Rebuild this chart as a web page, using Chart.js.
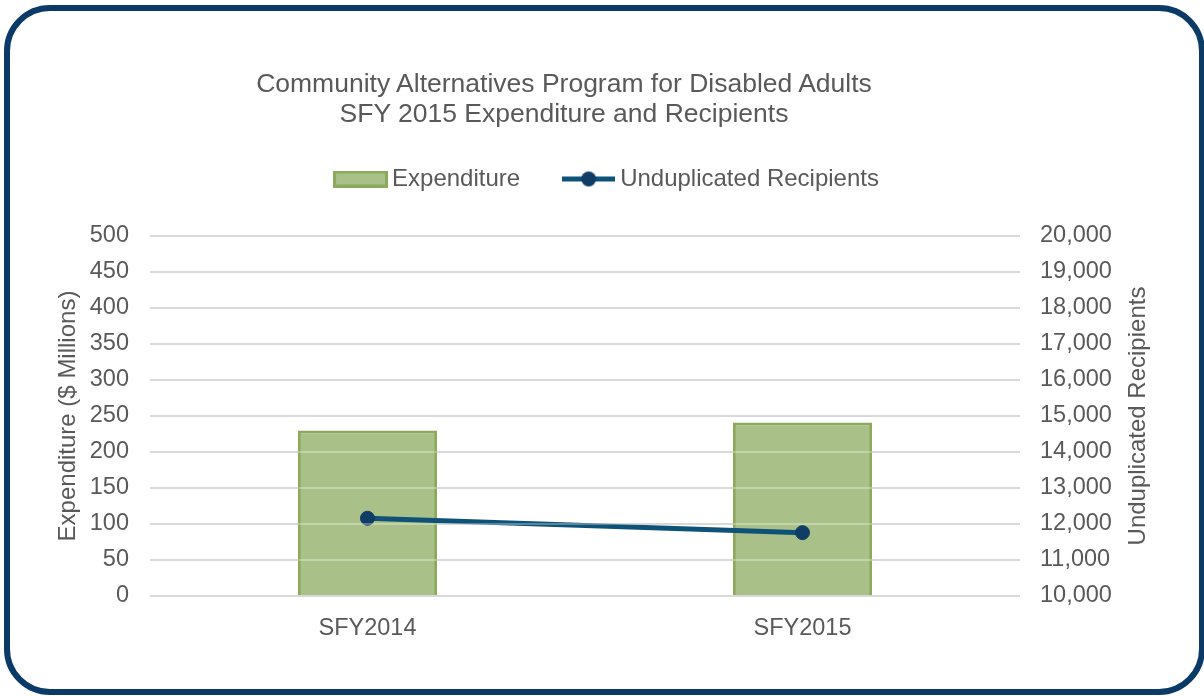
<!DOCTYPE html>
<html>
<head>
<meta charset="utf-8">
<script src="https://cdn.jsdelivr.net/npm/chart.js@4/dist/chart.umd.min.js"></script>
<style>
  html, body { margin:0; padding:0; background:#fff; }
  #wrap { position:relative; width:1204px; height:696px; overflow:hidden; background:#fff; }
  #c { position:absolute; left:0; top:0; }
  #title { position:absolute; left:0; top:68px; width:1128px; text-align:center;
    font-family:"Liberation Sans", Arial, sans-serif; font-size:26.5px; line-height:30px; color:#595959; pointer-events:none; }
  #frame { position:absolute; left:4px; top:5px; width:1201px; height:690px; box-sizing:border-box;
    border:6px solid #0B3A66; border-radius:46px; pointer-events:none; }
</style>
</head>
<body>
<div id="wrap">
  <canvas id="c" width="1204" height="696"></canvas>
  <div id="title">Community Alternatives Program for Disabled Adults<br>SFY 2015 Expenditure and Recipients</div>
  <div id="frame"></div>
</div>
<script>
const categories = ['SFY2014', 'SFY2015'];
const expenditure = [230, 241];
const recipients = [12160, 11760];
const expenditureTicks = [0, 50, 100, 150, 200, 250, 300, 350, 400, 450, 500];
const recipientTicks = [10000, 11000, 12000, 13000, 14000, 15000, 16000, 17000, 18000, 19000, 20000];
const seriesNames = ['Expenditure', 'Unduplicated Recipients'];

const FONT = '"Liberation Sans", Arial, sans-serif';
const TXT = '#595959';
const BAR_FILL = '#A9C089';
const BAR_EDGE = '#8CA95C';
const LINE_COL = '#0E5278';
const PT_COL = '#0F3D66';

function boxIcon() {
  const c = document.createElement('canvas'); c.width = 55; c.height = 17;
  const x = c.getContext('2d');
  x.fillStyle = BAR_FILL; x.fillRect(0, 0, 55, 17);
  x.strokeStyle = BAR_EDGE; x.lineWidth = 3; x.strokeRect(1.5, 1.5, 52, 14);
  return c;
}
function lineIcon() {
  const c = document.createElement('canvas'); c.width = 53; c.height = 17;
  const x = c.getContext('2d');
  x.strokeStyle = LINE_COL; x.lineWidth = 5;
  x.beginPath(); x.moveTo(0, 8.5); x.lineTo(53, 8.5); x.stroke();
  x.fillStyle = PT_COL; x.beginPath(); x.arc(26.5, 8.5, 7.5, 0, Math.PI * 2); x.fill();
  return c;
}
const icons = [boxIcon(), lineIcon()];

const layoutTweak = {
  id: 'layoutTweak',
  afterInit(chart) {
    const lg = chart.legend;
    if (lg && !lg._patched) {
      const fit = lg.fit.bind(lg);
      lg.fit = function () { fit(); this.height += 35; };
      lg._patched = true;
    }
  },
  afterLayout(chart) {
    const lg = chart.legend;
    if (lg) { lg.left += 8; lg.right += 8; }
    const s = chart.scales.y1;
    if (s && !s._titlePatched) {
      // right-hand axis title reads bottom-to-top, like the left one
      s.drawTitle = function () {
        const t = this.options.title;
        if (!t.display) return;
        const font = Chart.helpers.toFont(t.font);
        const pad = Chart.helpers.toPadding(t.padding);
        const ctx = this.ctx;
        const x = this.right - pad.top - font.lineHeight / 2;
        const y = (this.top + this.bottom) / 2;
        ctx.save();
        ctx.translate(x, y);
        ctx.rotate(-Math.PI / 2);
        ctx.font = font.string;
        ctx.fillStyle = t.color;
        ctx.textAlign = 'center';
        ctx.textBaseline = 'middle';
        ctx.fillText(t.text, 0, 0);
        ctx.restore();
      };
      s._titlePatched = true;
    }
  }
};

new Chart(document.getElementById('c'), {
  type: 'bar',
  data: {
    labels: categories,
    datasets: [
      {
        type: 'bar', label: seriesNames[0], data: expenditure, yAxisID: 'y', order: 1,
        backgroundColor: BAR_FILL, borderColor: BAR_EDGE, borderWidth: 3,
        categoryPercentage: 1, barPercentage: 0.32
      },
      {
        type: 'line', label: seriesNames[1], data: recipients, yAxisID: 'y1', order: 0,
        borderColor: LINE_COL, borderWidth: 5, tension: 0, fill: false,
        pointRadius: 7, pointBackgroundColor: PT_COL, pointBorderColor: PT_COL, pointBorderWidth: 1,
        pointHoverRadius: 7
      }
    ]
  },
  options: {
    responsive: false,
    animation: false,
    devicePixelRatio: 1,
    layout: { padding: { top: 118, left: 0, right: 0, bottom: 0 } },
    plugins: {
      title: { display: false },
      tooltip: { enabled: false },
      legend: {
        display: true,
        position: 'top',
        labels: {
          usePointStyle: true,
          pointStyleWidth: 39,
          boxHeight: 17,
          padding: 49,
          color: TXT,
          font: { family: FONT, size: 24 },
          generateLabels(chart) {
            return seriesNames.map((n, i) => ({
              text: n, pointStyle: icons[i], datasetIndex: i, hidden: false,
              fillStyle: 'transparent', strokeStyle: 'transparent', lineWidth: 0, fontColor: TXT
            }));
          }
        }
      }
    },
    scales: {
      x: {
        grid: { display: false },
        border: { display: false },
        ticks: { color: TXT, font: { family: FONT, size: 23.5 }, padding: 10 },
        afterFit(s) { s.height = 100; }
      },
      y: {
        position: 'left',
        min: expenditureTicks[0], max: expenditureTicks[expenditureTicks.length - 1],
        afterBuildTicks(s) { s.ticks = expenditureTicks.map(v => ({ value: v })); },
        grid: { color: '#C9C9C9', lineWidth: 2, drawTicks: false },
        border: { display: false },
        ticks: { color: TXT, font: { family: FONT, size: 23.5 }, padding: 21 },
        title: { display: true, text: 'Expenditure ($ Millions)', color: TXT, font: { family: FONT, size: 24 }, padding: { top: 54, bottom: 0 } },
        afterFit(s) { s.width = 150; }
      },
      y1: {
        position: 'right',
        min: recipientTicks[0], max: recipientTicks[recipientTicks.length - 1],
        afterBuildTicks(s) { s.ticks = recipientTicks.map(v => ({ value: v })); },
        grid: { color: 'rgba(255,255,255,0.3)', lineWidth: 2, drawTicks: false, z: 1 },
        border: { display: false },
        ticks: { color: TXT, font: { family: FONT, size: 23.5 }, padding: 20,
          callback: v => Number(v).toLocaleString('en-US') },
        title: { display: true, text: 'Unduplicated Recipients', color: TXT, font: { family: FONT, size: 24 }, padding: { top: 51, bottom: 0 } },
        afterFit(s) { s.width = 184; }
      }
    }
  },
  plugins: [layoutTweak]
});
</script>
</body>
</html>
